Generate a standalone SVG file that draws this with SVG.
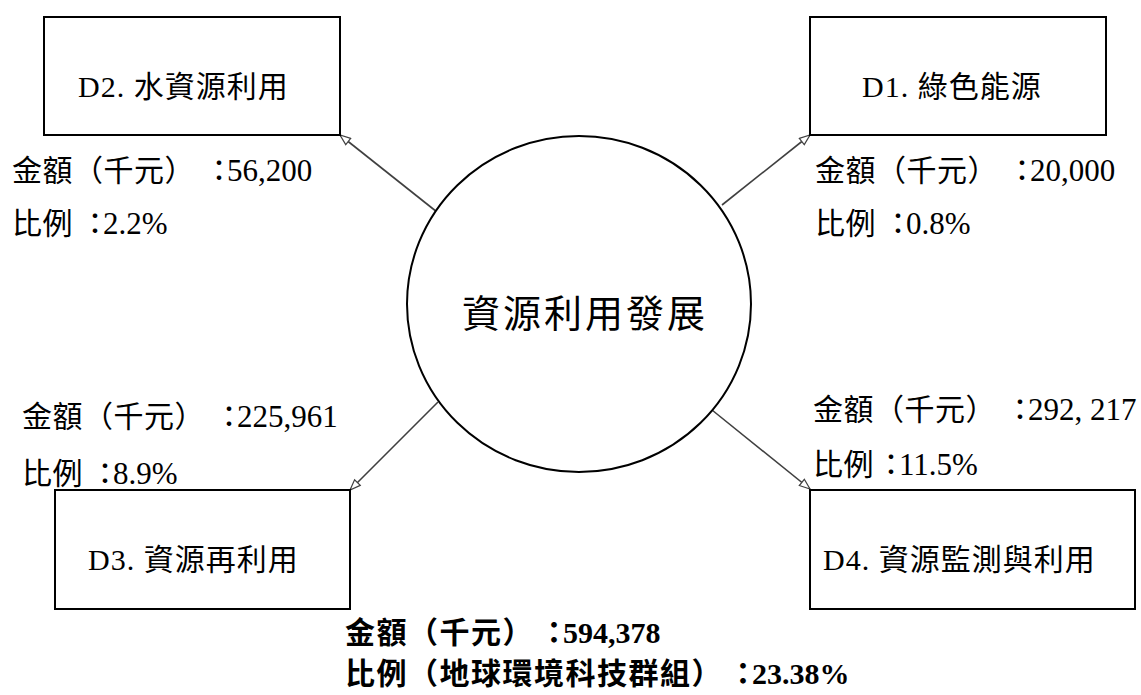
<svg xmlns="http://www.w3.org/2000/svg" width="1141" height="695" viewBox="0 0 1141 695">
<style>
text{text-spacing-trim:space-all}
.box{fill:#fff;stroke:#000;stroke-width:2}
.hub{fill:#fff;stroke:#000;stroke-width:2}
.t{font-family:"Liberation Serif","Noto Sans CJK TC",serif;font-size:30px;fill:#000;letter-spacing:0.5px}
.c{letter-spacing:-7px}
.n{font-size:31px;letter-spacing:0}
.bt{font-family:"Liberation Serif","Noto Sans CJK TC",serif;font-size:30px;fill:#000;letter-spacing:1px}
.ct{font-family:"Noto Sans CJK TC",serif;font-size:38px;fill:#000;letter-spacing:3px}
.b{font-weight:bold;letter-spacing:1.5px}
.bn{font-size:30px;letter-spacing:0}
.conn{stroke:#404040;stroke-width:1.6;fill:none;marker-end:url(#arr)}
</style>
<defs>
<marker id="arr" viewBox="0 0 12 10" refX="11.5" refY="5" markerWidth="12" markerHeight="10" markerUnits="userSpaceOnUse" orient="auto">
<path d="M1,1 L11.5,5 L1,9 Z" fill="#fff" stroke="#404040" stroke-width="1.2"/>
</marker>
</defs>
<rect width="1141" height="695" fill="#fff"/>
<g id="connectors">
<line class="conn" x1="437" y1="212" x2="340" y2="135"/>
<line class="conn" x1="722" y1="205" x2="810" y2="135"/>
<line class="conn" x1="438" y1="402" x2="350" y2="490"/>
<line class="conn" x1="712" y1="410" x2="810" y2="489"/>
</g>
<g id="hub">
<ellipse class="hub" cx="579" cy="304" rx="172" ry="168"/>
<text class="ct" x="462" y="327">資源利用發展</text>
</g>
<g id="d2">
<rect class="box" x="44" y="17" width="296" height="118"/>
<text class="bt" x="78" y="97">D2. 水資源利用</text>
<text class="t" x="12" y="181">金額（千元）<tspan class="c" x="204">：</tspan><tspan class="n" x="227">56,200</tspan></text>
<text class="t" x="12" y="234">比例<tspan class="c" x="80">：</tspan><tspan class="n" x="103">2.2%</tspan></text>
</g>
<g id="d1">
<rect class="box" x="810" y="17" width="296" height="118"/>
<text class="bt" x="862" y="97">D1. 綠色能源</text>
<text class="t" x="815" y="181">金額（千元）<tspan class="c" x="1007">：</tspan><tspan class="n" x="1030">20,000</tspan></text>
<text class="t" x="815" y="234">比例<tspan class="c" x="883">：</tspan><tspan class="n" x="906">0.8%</tspan></text>
</g>
<g id="d3">
<rect class="box" x="55" y="490" width="295" height="119"/>
<text class="bt" x="88" y="570">D3. 資源再利用</text>
<text class="t" x="22" y="427">金額（千元）<tspan class="c" x="214">：</tspan><tspan class="n" x="237">225,961</tspan></text>
<text class="t" x="22" y="484">比例<tspan class="c" x="90">：</tspan><tspan class="n" x="113">8.9%</tspan></text>
</g>
<g id="d4">
<rect class="box" x="810" y="490" width="325" height="119"/>
<text class="bt" x="823" y="570">D4. 資源監測與利用</text>
<text class="t" x="813" y="420">金額（千元）<tspan class="c" x="1005">：</tspan><tspan class="n" x="1028">292, 217</tspan></text>
<text class="t" x="813" y="475">比例<tspan class="c" x="876">：</tspan><tspan class="n" x="899">11.5%</tspan></text>
</g>
<g id="total">
<text class="t b" x="345" y="643">金額（千元）<tspan class="c" x="539">：</tspan><tspan class="bn" x="563">594,378</tspan></text>
<text class="t b" x="345" y="684">比例（地球環境科技群組）<tspan class="c" x="728">：</tspan><tspan class="bn" x="752">23.38%</tspan></text>
</g>
</svg>
